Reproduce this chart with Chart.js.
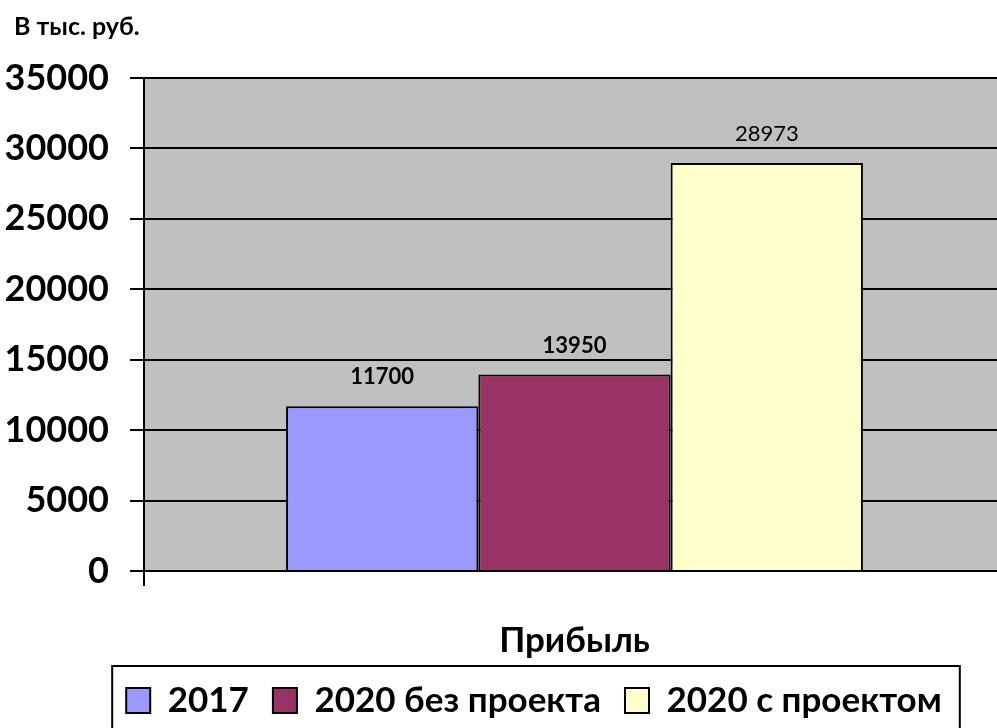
<!DOCTYPE html>
<html lang="ru">
<head>
<meta charset="utf-8">
<title>Прибыль</title>
<script src="https://cdn.jsdelivr.net/npm/chart.js@4/dist/chart.umd.min.js"></script>
<style>
  body { margin: 0; background: #fff; overflow: hidden; }
  #wrap { position: relative; width: 997px; height: 728px; overflow: hidden; }
  #wrap canvas { display: block; }
  #units { position: absolute; left: 14px; top: 10px; font: bold 25px Lato, sans-serif; color: #000; }
</style>
</head>
<body>
<div id="wrap">
  <canvas id="profitChart" width="1005" height="728"></canvas>
  <div id="units">В тыс. руб.</div>
</div>
<script>
// данные графика
const categories = ['Прибыль'];
const seriesNames = ['2017', '2020 без проекта', '2020 с проектом'];
const seriesValues = [[11700], [13950], [28973]];
const seriesColors = ['#9999FF', '#993366', '#FFFFCC'];
const labelWeights = ['bold', 'bold', 'normal'];

Chart.defaults.font.family = 'Lato, sans-serif';
Chart.defaults.color = '#000';

// серый фон области построения
const plotBackground = {
  id: 'plotBackground',
  beforeDraw(chart) {
    const { ctx, chartArea: a } = chart;
    ctx.save();
    ctx.fillStyle = '#C0C0C0';
    ctx.fillRect(a.left, a.top, a.right - a.left, a.bottom - a.top);
    ctx.restore();
  }
};

// подписи значений над столбцами
const valueLabels = {
  id: 'valueLabels',
  afterDatasetsDraw(chart) {
    const ctx = chart.ctx;
    ctx.save();
    ctx.fillStyle = '#000';
    ctx.textAlign = 'center';
    ctx.textBaseline = 'alphabetic';
    chart.data.datasets.forEach((ds, i) => {
      chart.getDatasetMeta(i).data.forEach((bar, j) => {
        ctx.font = labelWeights[i] + ' 22px Lato, sans-serif';
        ctx.fillText(String(ds.data[j]), bar.x, bar.y - 22);
      });
    });
    ctx.restore();
  }
};

// легенда смещена вправо, под центр области построения
const legendShift = {
  id: 'legendShift',
  afterLayout(chart) {
    const lg = chart.legend;
    if (!lg) return;
    lg.left += 63;
    lg.legendHitBoxes.forEach(b => { b.left += 63; });
  }
};

// рамка вокруг легенды
const legendFrame = {
  id: 'legendFrame',
  afterDraw(chart) {
    const lg = chart.legend;
    if (!lg || !lg.legendHitBoxes.length) return;
    const boxes = lg.legendHitBoxes;
    const first = boxes[0], last = boxes[boxes.length - 1];
    const left = first.left - 14;
    const right = last.left + last.width + 18;
    const top = lg.top + 7;
    const ctx = chart.ctx;
    ctx.save();
    ctx.strokeStyle = '#000';
    ctx.lineWidth = 2;
    ctx.strokeRect(left, top, right - left, chart.height - top + 10);
    ctx.restore();
  }
};

const datasets = seriesNames.map((name, i) => ({
  label: name,
  data: seriesValues[i],
  backgroundColor: seriesColors[i],
  borderColor: '#000',
  borderWidth: 2,
  barPercentage: 1,
  categoryPercentage: 0.67
}));

new Chart(document.getElementById('profitChart'), {
  type: 'bar',
  data: { labels: categories, datasets: datasets },
  options: {
    responsive: false,
    animation: false,
    layout: { padding: { left: 0, top: 78, right: 0, bottom: 0 } },
    scales: {
      x: {
        afterFit(scale) { scale.height = 88; },
        grid: {
          drawOnChartArea: false,
          color: c => (c.index === 0 ? '#000' : 'rgba(0,0,0,0)'),
          lineWidth: 2,
          tickLength: 15
        },
        border: { display: true, color: '#000', width: 2 },
        ticks: { font: { size: 35, weight: 'bold' }, color: '#000', padding: 34 }
      },
      y: {
        min: 0,
        max: 35000,
        afterFit(scale) { scale.width = 144; },
        grid: { color: '#000', lineWidth: 2, tickLength: 14 },
        border: { display: true, color: '#000', width: 2 },
        ticks: {
          stepSize: 5000,
          callback: v => String(v),
          font: { size: 36, weight: 'bold' },
          color: '#000',
          padding: 21
        }
      }
    },
    plugins: {
      legend: {
        position: 'bottom',
        labels: { boxWidth: 24, boxHeight: 25, padding: 24, color: '#000', font: { size: 35, weight: 'bold' } }
      },
      tooltip: { enabled: false }
    }
  },
  plugins: [plotBackground, valueLabels, legendShift, legendFrame]
});
</script>
</body>
</html>
